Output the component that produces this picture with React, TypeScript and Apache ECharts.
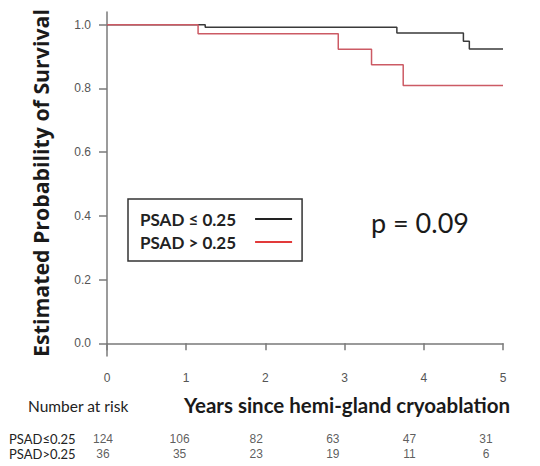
import React, { useEffect, useRef } from "react";
import * as echarts from "echarts";

// ---- data ----
const years = [0, 1, 2, 3, 4, 5];
const yTicks = [0, 0.2, 0.4, 0.6, 0.8, 1.0];
const groupNames = ["PSAD ≤ 0.25", "PSAD > 0.25"];
const rowLabels = ["PSAD≤0.25", "PSAD>0.25"];
const lowTimes = [0, 1.24, 3.66, 4.5, 4.575, 5];
const lowSurv = [1, 0.992, 0.974, 0.948, 0.924, 0.924];
const highTimes = [0, 1.15, 2.92, 3.34, 3.74, 5];
const highSurv = [1, 0.972, 0.923, 0.874, 0.809, 0.809];
const riskLow = [124, 106, 82, 63, 47, 31];
const riskHigh = [36, 35, 23, 19, 11, 6];
const pValueText = "p = 0.09";
const yTitle = "Estimated Probability of Survival";
const xTitle = "Years since hemi-gland cryoablation";
const riskTitle = "Number at risk";

const axisColor = "#7a7a7a";
const blackCurve = "#3a3a3a";
const redCurve = "#cc5a64";

export default function App() {
  const ref = useRef<HTMLDivElement>(null);
  useEffect(() => {
    if (!ref.current) return;
    const chart = echarts.init(ref.current, undefined, { renderer: "svg" });
    const riskSeries = (vals: number[], row: string) => ({
      type: "scatter",
      xAxisIndex: 1,
      yAxisIndex: 1,
      symbolSize: 0.1,
      itemStyle: { color: "transparent" },
      silent: true,
      label: {
        show: true,
        position: "inside",
        formatter: (p: any) => String(p.value[2]),
        color: "#333",
        fontFamily: "Liberation Sans",
        fontSize: 12,
      },
      data: vals.map((v, i) => [years[i], row, v]),
    });
    chart.setOption({
      animation: false,
      backgroundColor: "#fff",
      grid: [
        { left: 107, top: 12, width: 396, height: 344 },
        { left: 103, top: 431.5, width: 383, height: 30 },
      ],
      xAxis: [
        {
          type: "value",
          gridIndex: 0,
          min: 0,
          max: 5,
          interval: 1,
          axisLine: { show: true, lineStyle: { color: axisColor, width: 1.5 } },
          axisTick: { show: true, length: 7, lineStyle: { color: axisColor, width: 1.5 } },
          axisLabel: { margin: 16, color: "#555", fontFamily: "Liberation Sans", fontSize: 12 },
          splitLine: { show: false },
        },
        { type: "value", gridIndex: 1, min: 0, max: 5, show: false },
      ],
      yAxis: [
        {
          type: "value",
          gridIndex: 0,
          min: -0.04,
          max: 1.04,
          axisLine: { show: true, lineStyle: { color: axisColor, width: 1.5 } },
          axisTick: {
            show: true,
            length: 8,
            customValues: yTicks,
            lineStyle: { color: axisColor, width: 1.5 },
          },
          axisLabel: {
            customValues: yTicks,
            formatter: (v: number) => v.toFixed(1),
            margin: 16,
            color: "#555",
            fontFamily: "Liberation Sans",
            fontSize: 12,
          },
          splitLine: { show: false },
        },
        {
          type: "category",
          gridIndex: 1,
          data: rowLabels,
          inverse: true,
          axisLine: { show: false },
          axisTick: { show: false },
          axisLabel: {
            interval: 0,
            align: "left",
            margin: 94,
            color: "#222",
            fontFamily: "Lato",
            fontSize: 13,
          },
        },
      ],
      legend: {
        orient: "vertical",
        left: 128,
        top: 199,
        align: "right",
        padding: [10, 10, 9, 12],
        borderColor: "#333",
        borderWidth: 1.5,
        itemWidth: 37,
        itemHeight: 2,
        itemGap: 3,
        icon: "rect",
        textStyle: {
          fontFamily: "Lato",
          fontWeight: "bold",
          fontSize: 17,
          lineHeight: 20,
          color: "#222",
          padding: [0, 14, 0, 0],
        },
        data: [
          { name: groupNames[0], itemStyle: { color: "#222" } },
          { name: groupNames[1], itemStyle: { color: "#e23a3a" } },
        ],
      },
      series: [
        {
          name: groupNames[0],
          type: "line",
          step: "end",
          symbol: "none",
          color: blackCurve,
          lineStyle: { color: blackCurve, width: 1.5 },
          data: lowTimes.map((t, i) => [t, lowSurv[i]]),
        },
        {
          name: groupNames[1],
          type: "line",
          step: "end",
          symbol: "none",
          color: redCurve,
          lineStyle: { color: redCurve, width: 1.5 },
          data: highTimes.map((t, i) => [t, highSurv[i]]),
        },
        riskSeries(riskLow, rowLabels[0]),
        riskSeries(riskHigh, rowLabels[1]),
      ],
      graphic: [
        {
          type: "text",
          x: 40,
          y: 183,
          rotation: Math.PI / 2,
          style: {
            text: yTitle,
            align: "center",
            verticalAlign: "middle",
            fontFamily: "Open Sans",
            fontWeight: "bold",
            fontSize: 21.3,
            fill: "#1a1a1a",
          },
        },
        {
          type: "text",
          x: 347,
          y: 405,
          style: {
            text: xTitle,
            align: "center",
            verticalAlign: "middle",
            fontFamily: "Lato",
            fontWeight: "bold",
            fontSize: 20.5,
            fill: "#1a1a1a",
          },
        },
        {
          type: "text",
          x: 28,
          y: 405.5,
          style: {
            text: riskTitle,
            align: "left",
            verticalAlign: "middle",
            fontFamily: "Lato",
            fontSize: 15.5,
            fill: "#222",
          },
        },
        {
          type: "text",
          x: 371,
          y: 222,
          style: {
            text: pValueText,
            align: "left",
            verticalAlign: "middle",
            fontFamily: "Lato",
            fontSize: 27,
            fill: "#1a1a1a",
          },
        },
      ],
    });
    return () => chart.dispose();
  }, []);
  return (
    <div
      ref={ref}
      style={{ position: "absolute", left: 0, top: 0, width: 540, height: 466 }}
    />
  );
}
